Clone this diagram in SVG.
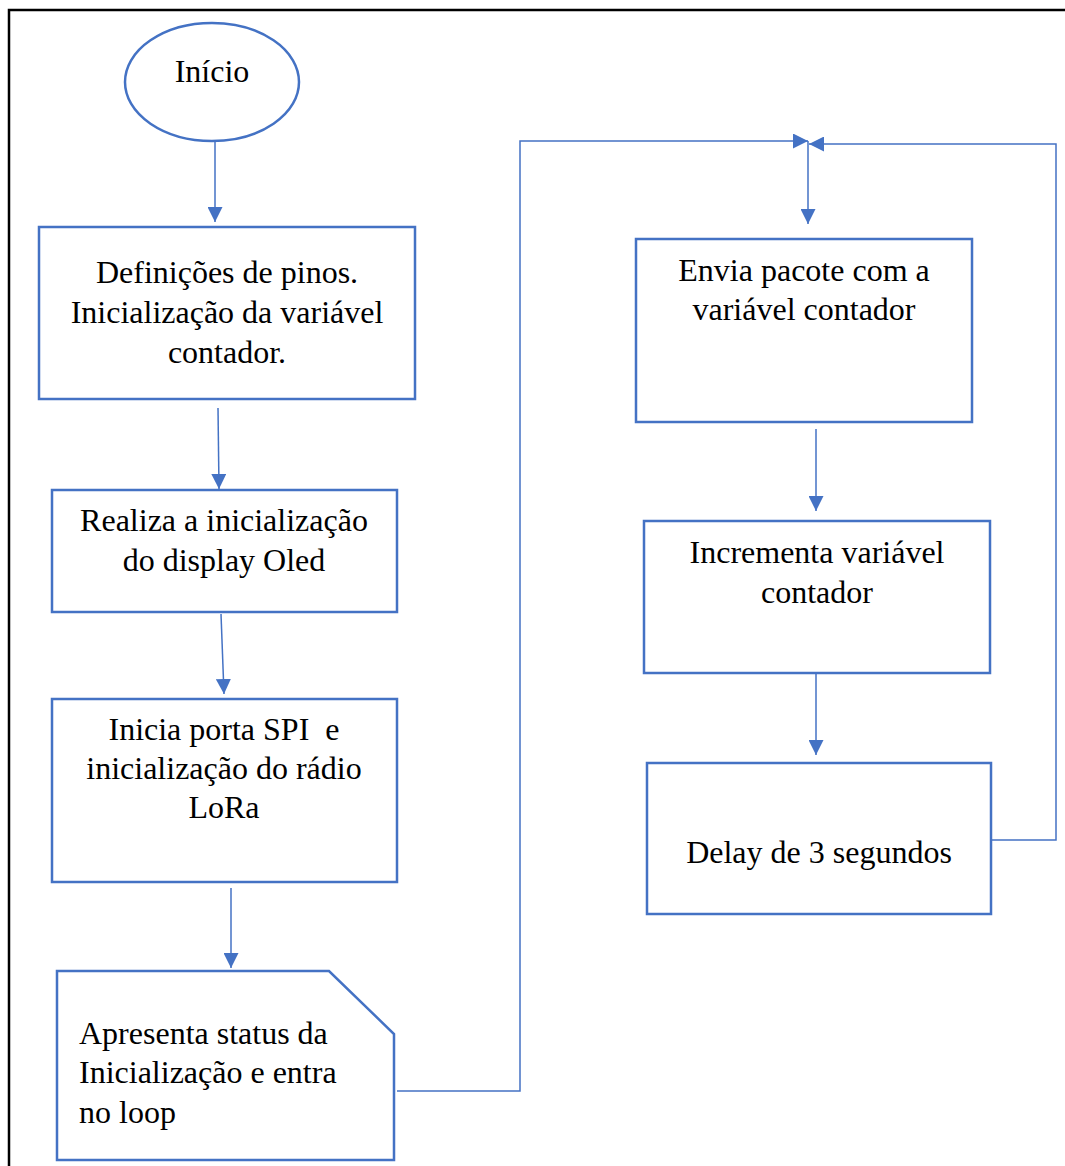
<svg xmlns="http://www.w3.org/2000/svg" width="1065" height="1166" viewBox="0 0 1065 1166">
  <style>
    .shape { fill: #ffffff; stroke: #4472C4; stroke-width: 2.5; }
    .conn { fill: none; stroke: #4472C4; stroke-width: 1.5; }
    .lbl { font-family: "Liberation Serif", "Times New Roman", serif; font-size: 32px; fill: #000000; }
    .c { text-anchor: middle; }
  </style>
  <defs>
    <marker id="arrow" viewBox="0 0 15 15" refX="15" refY="7.5" markerWidth="15" markerHeight="15" markerUnits="userSpaceOnUse" orient="auto">
      <path d="M0,0 L15,7.5 L0,15 Z" fill="#4472C4"/>
    </marker>
  </defs>

  <rect width="1065" height="1166" fill="#ffffff"/>

  <!-- page frame (left and top edges) -->
  <path d="M9,1166 V10 H1065" fill="none" stroke="#000000" stroke-width="2.5"/>

  <!-- connectors -->
  <g id="connectors">
    <line class="conn" x1="215" y1="141" x2="215" y2="222" marker-end="url(#arrow)"/>
    <line class="conn" x1="218" y1="408" x2="219" y2="489" marker-end="url(#arrow)"/>
    <line class="conn" x1="221" y1="614" x2="224" y2="694" marker-end="url(#arrow)"/>
    <line class="conn" x1="231" y1="888" x2="231" y2="968" marker-end="url(#arrow)"/>
    <polyline class="conn" points="397,1091 520,1091 520,141 808,141" marker-end="url(#arrow)"/>
    <polyline class="conn" points="991,840 1056,840 1056,144 809,144" marker-end="url(#arrow)"/>
    <line class="conn" x1="808" y1="141" x2="808" y2="224" marker-end="url(#arrow)"/>
    <line class="conn" x1="816" y1="429" x2="816" y2="511" marker-end="url(#arrow)"/>
    <line class="conn" x1="816" y1="673" x2="816" y2="755" marker-end="url(#arrow)"/>
  </g>

  <!-- start terminator -->
  <g id="inicio">
    <ellipse class="shape" cx="212" cy="82" rx="87" ry="59"/>
    <text class="lbl c" x="212" y="82">Início</text>
  </g>

  <g id="definicoes">
    <rect class="shape" x="39" y="227" width="376" height="172"/>
    <text class="lbl c" x="227" y="283">Definições de pinos.</text>
    <text class="lbl c" x="227" y="323">Inicialização da variável</text>
    <text class="lbl c" x="227" y="363">contador.</text>
  </g>

  <g id="display">
    <rect class="shape" x="52" y="490" width="345" height="122"/>
    <text class="lbl c" x="224" y="531">Realiza a inicialização</text>
    <text class="lbl c" x="224" y="571">do display Oled</text>
  </g>

  <g id="spi-lora">
    <rect class="shape" x="52" y="699" width="345" height="183"/>
    <text class="lbl c" x="224" y="740" xml:space="preserve">Inicia porta SPI  e</text>
    <text class="lbl c" x="224" y="779">inicialização do rádio</text>
    <text class="lbl c" x="224" y="818">LoRa</text>
  </g>

  <!-- display output shape with clipped top-right corner -->
  <g id="status">
    <path class="shape" d="M57,971 H329 L394,1034 V1160 H57 Z"/>
    <text class="lbl" x="79" y="1044">Apresenta status da</text>
    <text class="lbl" x="79" y="1083">Inicialização e entra</text>
    <text class="lbl" x="79" y="1123">no loop</text>
  </g>

  <g id="envia">
    <rect class="shape" x="636" y="239" width="336" height="183"/>
    <text class="lbl c" x="804" y="281">Envia pacote com a</text>
    <text class="lbl c" x="804" y="320">variável contador</text>
  </g>

  <g id="incrementa">
    <rect class="shape" x="644" y="521" width="346" height="152"/>
    <text class="lbl c" x="817" y="563">Incrementa variável</text>
    <text class="lbl c" x="817" y="603">contador</text>
  </g>

  <g id="delay">
    <rect class="shape" x="647" y="763" width="344" height="151"/>
    <text class="lbl c" x="819" y="863">Delay de 3 segundos</text>
  </g>
</svg>
